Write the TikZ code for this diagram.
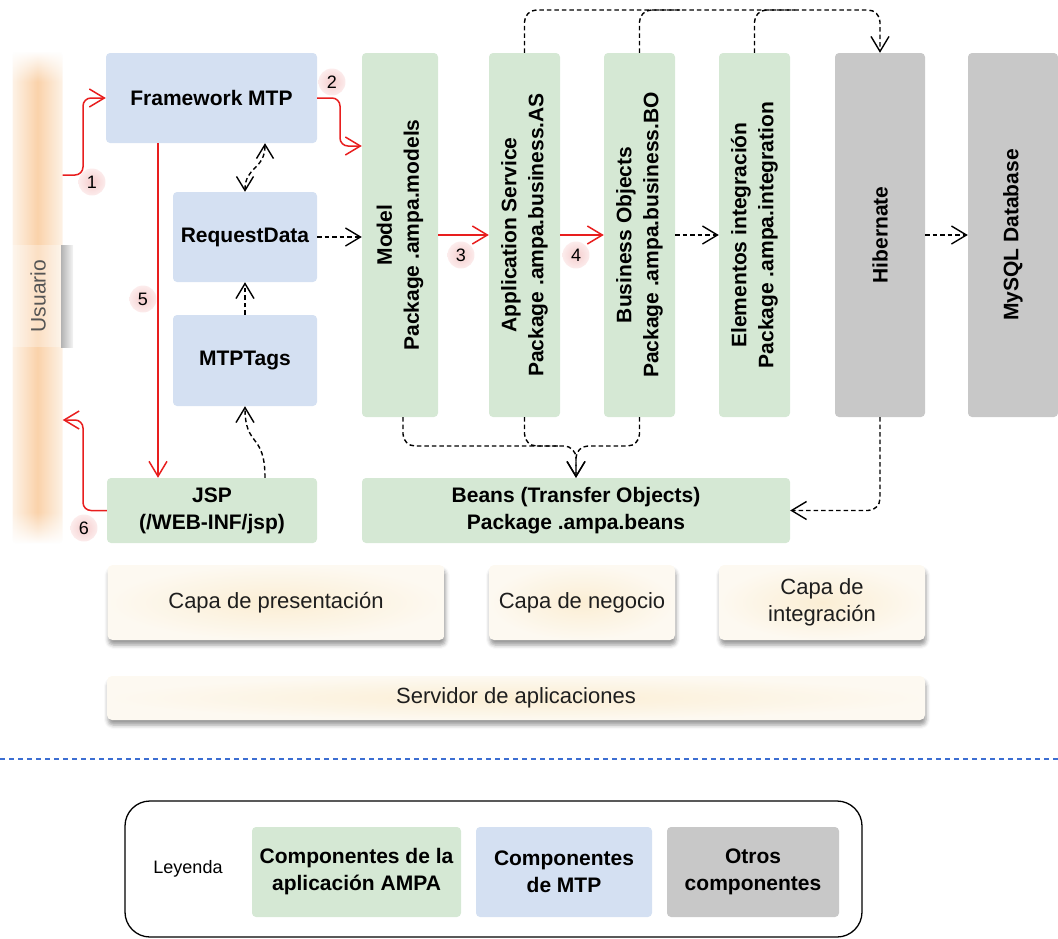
\documentclass[tikz,border=0pt]{standalone}
\usepackage{fontspec}
\usepackage{graphicx}
\setmainfont{Liberation Sans}
\usetikzlibrary{arrows.meta,shadows.blur,fadings}
\definecolor{agreen}{RGB}{213,232,212}
\definecolor{ablue}{RGB}{212,224,242}
\definecolor{agray}{RGB}{200,200,200}
\definecolor{ared}{RGB}{232,30,30}
\definecolor{apinkin}{RGB}{245,205,205}
\definecolor{apinkout}{RGB}{252,236,236}
\definecolor{acreamin}{RGB}{251,238,212}
\definecolor{acreamout}{RGB}{253,249,241}
\definecolor{aorange}{RGB}{250,210,170}
\definecolor{aorangel}{RGB}{253,242,230}
\definecolor{ablueline}{RGB}{60,110,210}
\definecolor{atext}{RGB}{30,30,30}
\definecolor{ausr}{RGB}{85,85,85}
\tikzset{
  box/.style={rounded corners=4pt, inner sep=0pt, align=center,
    font=\bfseries\fontsize{21}{27}\selectfont},
  gbox/.style={box, fill=agreen},
  bbox/.style={box, fill=ablue},
  ybox/.style={box, fill=agray},
  layer/.style={rounded corners=5pt, inner sep=0pt, align=center,
    inner color=acreamin, outer color=acreamout, text=atext,
    font=\fontsize{22}{27}\selectfont,
    blur shadow={shadow xshift=1pt, shadow yshift=-5pt, shadow blur radius=4pt, shadow opacity=40}},
  numc/.style={circle, inner sep=0pt, minimum size=27pt,
    inner color=apinkin, outer color=apinkout,
    font=\fontsize{18}{18}\selectfont},
  myarrow/.style={-{Straight Barb[length=15pt,width=18pt]}},
  dblarrow/.style={{Straight Barb[length=14pt,width=17pt]}-{Straight Barb[length=14pt,width=17pt]}},
  redln/.style={draw=ared, line width=1.5pt},
  dashln/.style={draw=black, line width=1.4pt, dash pattern=on 4.5pt off 3pt},
}
\begin{document}
\begin{tikzpicture}[x=1pt,y=-1pt]
\useasboundingbox (0,0) rectangle (1058,938);

% Usuario bar
\node[inner sep=0pt, minimum width=50pt, minimum height=491pt, rounded corners=3pt,
  left color=aorangel, right color=aorangel, middle color=aorange] (usr) at (37.5,297.5) {};
\fill[white, path fading=south] (11,51) rectangle (64,82);
\fill[white, path fading=north] (11,512) rectangle (64,544);
\fill[white, opacity=0.3] (11,245) rectangle (61,347);
\shade[left color=black!30, right color=black!4] (61,245) rectangle (73,347);
\node[rotate=90, text=ausr, font=\fontsize{21}{21}\selectfont] (usrl) at (38,296) {Usuario};

% MTP components
\node[bbox, minimum width=211pt, minimum height=90pt] (fw) at (211.5,98) {Framework MTP};
\node[bbox, minimum width=144pt, minimum height=90pt] (rd) at (245,237) {RequestData};
\node[bbox, minimum width=144pt, minimum height=91pt] (tags) at (245,360.5) {MTPTags};
\node[gbox, minimum width=210pt, minimum height=65pt] (jsp) at (212,510.5) {JSP\\(/WEB-INF/jsp)};

% vertical components
\node[gbox, minimum width=76pt, minimum height=364pt] (model) at (400,235)
  {\rotatebox{90}{\begin{tabular}{@{}c@{}}Model\\Package .ampa.models\end{tabular}}};
\node[gbox, minimum width=71pt, minimum height=364pt] (as) at (524.5,235)
  {\rotatebox{90}{\begin{tabular}{@{}c@{}}Application Service\\Package .ampa.business.AS\end{tabular}}};
\node[gbox, minimum width=71pt, minimum height=364pt] (bo) at (639.5,235)
  {\rotatebox{90}{\begin{tabular}{@{}c@{}}Business Objects\\Package .ampa.business.BO\end{tabular}}};
\node[gbox, minimum width=71pt, minimum height=364pt] (ei) at (754.5,235)
  {\rotatebox{90}{\begin{tabular}{@{}c@{}}Elementos integración\\Package .ampa.integration\end{tabular}}};
\node[ybox, minimum width=90pt, minimum height=364pt] (hib) at (880,235)
  {\rotatebox{90}{Hibernate}};
\node[ybox, minimum width=90pt, minimum height=364pt] (my) at (1013,235)
  {\rotatebox{90}{MySQL Database}};
\node[gbox, minimum width=428pt, minimum height=65pt] (beans) at (576,510.5)
  {Beans (Transfer Objects)\\Package .ampa.beans};

% red flow
\draw[redln, myarrow, rounded corners=8pt] (usr.east |- 0,175) -- (83,175) |- (fw.west);
\draw[redln, myarrow, rounded corners=8pt] (fw.east) -- (340,98) |- (model.west |- 0,146);
\draw[redln, myarrow] (model.east) -- (as.west);
\draw[redln, myarrow] (as.east) -- (bo.west);
\draw[redln, myarrow] (fw.south -| 158,0) -- (jsp.north -| 158,0);
\draw[redln, myarrow, rounded corners=8pt] (jsp.west) -| (83,420) -- (usr.east |- 0,420);

\node[numc] (n1) at (92,182) {1};
\node[numc] (n2) at (332,82) {2};
\node[numc] (n3) at (461,255) {3};
\node[numc] (n4) at (576,255) {4};
\node[numc] (n5) at (143,299) {5};
\node[numc] (n6) at (84,528) {6};

% dashed dependencies
\draw[dashln, dblarrow] (rd.north) .. controls (245,166) and (265,170) .. (fw.south -| 265,0);
\draw[dashln, myarrow] (tags.north) -- (rd.south);
\draw[dashln, myarrow] (jsp.north -| 265,0) .. controls (265,432) and (245,448) .. (tags.south);
\draw[dashln, myarrow] (rd.east) -- (model.west |- rd.east);
\draw[dashln, myarrow] (bo.east) -- (ei.west);
\draw[dashln, myarrow] (hib.east) -- (my.west);

\draw[dashln, myarrow, rounded corners=12pt] (as.north) -- (as.north |- 0,10) -| (hib.north);
\draw[dashln, rounded corners=12pt] (bo.north) -- (bo.north |- 0,10) -- (680,10);
\draw[dashln, rounded corners=12pt] (ei.north) -- (ei.north |- 0,10) -- (795,10);

\draw[dashln, myarrow, rounded corners=12pt] (model.south -| 403,0) -- (403,446) -| (beans.north);
\draw[dashln, myarrow, rounded corners=12pt] (bo.south) -- (bo.south |- 0,446) -| (beans.north);
\draw[dashln, rounded corners=12pt] (as.south) -- (as.south |- 0,446) -- (560,446);
\draw[dashln, myarrow, rounded corners=12pt] (hib.south) |- (beans.east);

% layers
\node[layer, minimum width=337pt, minimum height=75pt] (lp) at (276,602.5) {Capa de presentación};
\node[layer, minimum width=186pt, minimum height=75pt] (ln) at (582,602.5) {Capa de negocio};
\node[layer, minimum width=206pt, minimum height=75pt] (li) at (822,602.5) {Capa de\\integración};
\node[layer, minimum width=818pt, minimum height=44pt] (ls) at (516,698) {Servidor de aplicaciones};

% separator
\draw[ablueline, line width=1.2pt, dash pattern=on 5pt off 4pt] (0,759) -- (1058,759);

% legend
\draw[line width=1.3pt, rounded corners=25pt] (125,801) rectangle (862,937);
\node[font=\fontsize{18}{18}\selectfont] (ley) at (188,869) {Leyenda};
\node[gbox, minimum width=209pt, minimum height=90pt] (lg) at (356.5,872) {Componentes de la\\aplicación AMPA};
\node[bbox, minimum width=176pt, minimum height=90pt] (lb) at (564,872) {Componentes\\de MTP};
\node[ybox, minimum width=172pt, minimum height=90pt] (lo) at (753,872) {Otros\\componentes};
\end{tikzpicture}
\end{document}
